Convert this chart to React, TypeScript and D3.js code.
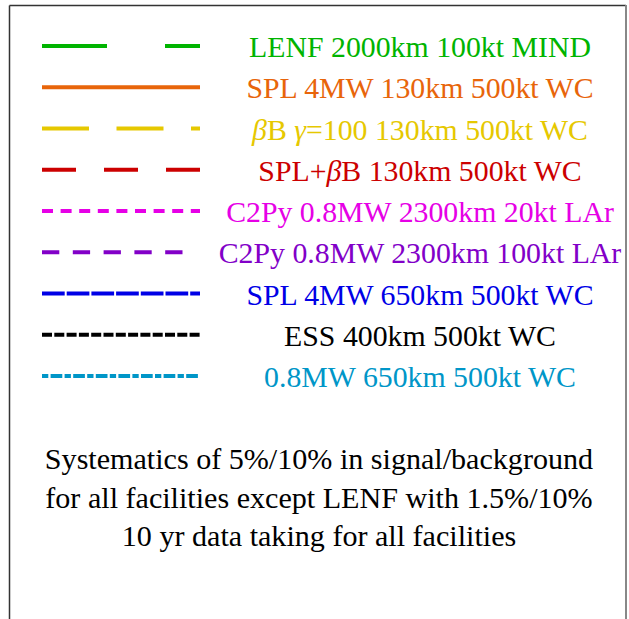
import React from "react";
import * as d3 from "d3";

const W = 629;
const H = 619;

// Legend entries (label pieces: [text, italic])
const labels: [string, boolean][][] = [
  [["LENF 2000km 100kt MIND", false]],
  [["SPL 4MW 130km 500kt WC", false]],
  [["β", true], ["B ", false], ["γ", true], ["=100 130km 500kt WC", false]],
  [["SPL+", false], ["β", true], ["B 130km 500kt WC", false]],
  [["C2Py 0.8MW 2300km 20kt LAr", false]],
  [["C2Py 0.8MW 2300km 100kt LAr", false]],
  [["SPL 4MW 650km 500kt WC", false]],
  [["ESS 400km 500kt WC", false]],
  [["0.8MW 650km 500kt WC", false]],
];
const colors = [
  "#00b400",
  "#e8650a",
  "#e6c800",
  "#cc0000",
  "#e600e6",
  "#8200c8",
  "#0000e6",
  "#000000",
  "#0096c8",
];
const dashes = [
  "65 58",
  "none",
  "47 27.5",
  "34 28",
  "11 7.6",
  "17.3 13.5",
  "22.7 2",
  "10 2.3",
  "6.3 2.3 11.7 2.3",
];
const lineEnds = [200, 200, 200, 200, 200, 195, 200, 200, 200];

const noteLines = [
  "Systematics of 5%/10% in signal/background",
  "for all facilities except LENF with 1.5%/10%",
  "10 yr data taking for all facilities",
];

const FONT = "Liberation Serif";

export default function App() {
  const rowY = d3
    .scalePoint<number>()
    .domain(d3.range(labels.length))
    .range([46, 376]);
  const noteY = d3
    .scalePoint<number>()
    .domain(d3.range(noteLines.length))
    .range([469, 546]);
  return (
    <svg
      width={W}
      height={H}
      style={{ position: "absolute", left: 0, top: 0, background: "#fff" }}
    >
      <line x1={9.5} y1={5.5} x2={9.5} y2={H} stroke="#333" strokeWidth={1.5} />
      <line x1={9.5} y1={5.5} x2={626} y2={5.5} stroke="#333" strokeWidth={1.5} />
      <line x1={626} y1={5} x2={626} y2={H} stroke="#888" strokeWidth={2} />
      {labels.map((parts, i) => {
        const y = rowY(i)!;
        return (
          <g key={i}>
            <line
              x1={42}
              x2={lineEnds[i]}
              y1={y}
              y2={y}
              stroke={colors[i]}
              strokeWidth={4}
              strokeDasharray={dashes[i]}
            />
            <text
              x={420}
              y={y + 11}
              textAnchor="middle"
              fill={colors[i]}
              fontFamily={FONT}
              fontSize={29.8}
            >
              {parts.map(([t, it], j) => (
                <tspan key={j} fontStyle={it ? "italic" : "normal"}>
                  {t}
                </tspan>
              ))}
            </text>
          </g>
        );
      })}
      {noteLines.map((t, i) => (
        <text
          key={i}
          x={319}
          y={noteY(i)!}
          textAnchor="middle"
          fill="#000"
          fontFamily={FONT}
          fontSize={30.1}
        >
          {t}
        </text>
      ))}
    </svg>
  );
}
